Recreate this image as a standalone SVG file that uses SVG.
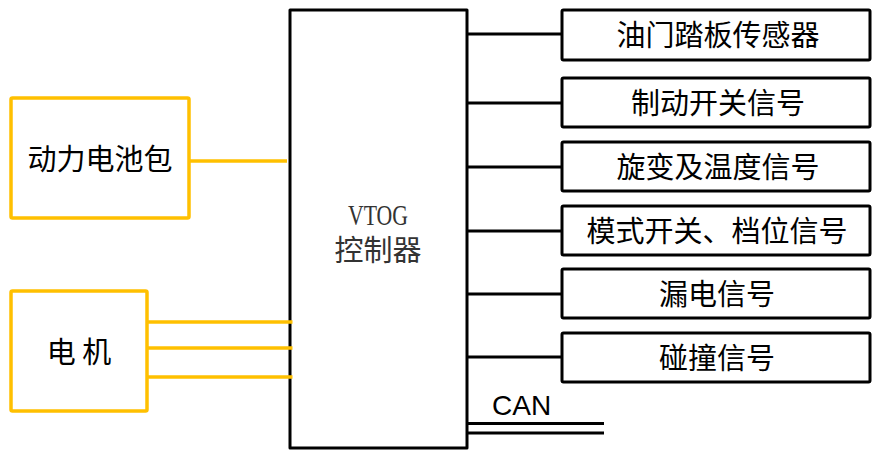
<svg xmlns="http://www.w3.org/2000/svg" width="874" height="450" viewBox="0 0 874 450">
<style>
.bk{fill:#fff;stroke:#000;stroke-width:3;stroke-linejoin:round}
.yb{fill:#fff;stroke:#FFC000;stroke-width:3.5;stroke-linejoin:round}
.bl{stroke:#000;stroke-width:3;fill:none}
.yl{stroke:#FFC000;stroke-width:3.5;fill:none}
.t{font-family:"Microsoft YaHei","Noto Sans CJK SC","Noto Sans",sans-serif;font-size:29px;fill:#000;text-anchor:middle}
.s{font-family:"Liberation Serif","Noto Sans CJK SC",serif;font-size:29px;fill:#333;text-anchor:middle}
</style>
<rect width="874" height="450" fill="#fff"/>
<g id="connectors">
<line class="yl" x1="190" y1="161" x2="287" y2="161"/>
<line class="bl" x1="467" y1="34" x2="562" y2="34"/>
<line class="bl" x1="467" y1="103" x2="562" y2="103"/>
<line class="bl" x1="467" y1="167" x2="562" y2="167"/>
<line class="bl" x1="467" y1="231" x2="562" y2="231"/>
<line class="bl" x1="467" y1="294" x2="562" y2="294"/>
<line class="bl" x1="467" y1="357" x2="562" y2="357"/>
<line class="bl" x1="467" y1="423.5" x2="604" y2="423.5"/>
<line class="bl" x1="467" y1="433" x2="604" y2="433"/>
</g>
<g id="controller">
<rect class="bk" x="290" y="10" width="177" height="438"/>
<text class="s" x="378" y="225" font-size="26" textLength="60" lengthAdjust="spacingAndGlyphs">VTOG</text>
<text class="s" x="378" y="261" font-family="'Noto Sans CJK SC',serif">控制器</text>
</g>
<g id="motor-wires">
<line class="yl" x1="147" y1="322" x2="292.5" y2="322"/>
<line class="yl" x1="147" y1="348" x2="292.5" y2="348"/>
<line class="yl" x1="147" y1="377" x2="292.5" y2="377"/>
</g>
<g id="battery">
<rect class="yb" x="11" y="98" width="178" height="120" rx="1.5"/>
<text class="t" x="100" y="170">动力电池包</text>
</g>
<g id="motor">
<rect class="yb" x="11" y="291" width="136" height="120" rx="1.5"/>
<text class="t" x="79" y="363">电 机</text>
</g>
<g id="throttle">
<rect class="bk" x="562" y="10" width="308" height="50" rx="1.5"/>
<text class="t" x="718" y="46">油门踏板传感器</text>
</g>
<g id="brake">
<rect class="bk" x="562" y="78" width="308" height="49" rx="1.5"/>
<text class="t" x="718" y="114">制动开关信号</text>
</g>
<g id="resolver">
<rect class="bk" x="562" y="142" width="308" height="49" rx="1.5"/>
<text class="t" x="718" y="178">旋变及温度信号</text>
</g>
<g id="mode">
<rect class="bk" x="562" y="206" width="308" height="49" rx="1.5"/>
<text class="t" x="717" y="242">模式开关、档位信号</text>
</g>
<g id="leakage">
<rect class="bk" x="562" y="269" width="308" height="49" rx="1.5"/>
<text class="t" x="717" y="305">漏电信号</text>
</g>
<g id="collision">
<rect class="bk" x="562" y="333" width="308" height="49" rx="1.5"/>
<text class="t" x="717" y="369">碰撞信号</text>
</g>
<g id="can">
<text x="492" y="415" font-family="'Liberation Sans',sans-serif" font-size="28" fill="#000">CAN</text>
</g>
</svg>
